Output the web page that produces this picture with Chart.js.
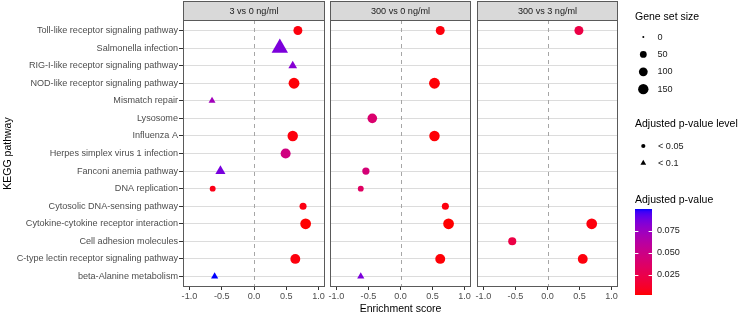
<!DOCTYPE html>
<html>
<head>
<meta charset="utf-8">
<script src="https://cdn.jsdelivr.net/npm/chart.js@4"></script>
<style>
  html, body { margin: 0; background: #fff; }
  #wrap { position: relative; width: 740px; height: 315px; overflow: hidden; }
  #wrap canvas { position: absolute; top: 0; }
</style>
</head>
<body>
<div id="wrap">
  <canvas id="p0"></canvas>
  <canvas id="p1"></canvas>
  <canvas id="p2"></canvas>
</div>
<script>
// data
const pathways = [
  "Toll-like receptor signaling pathway", "Salmonella infection", "RIG-I-like receptor signaling pathway",
  "NOD-like receptor signaling pathway", "Mismatch repair", "Lysosome", "Influenza A",
  "Herpes simplex virus 1 infection", "Fanconi anemia pathway", "DNA replication",
  "Cytosolic DNA-sensing pathway", "Cytokine-cytokine receptor interaction", "Cell adhesion molecules",
  "C-type lectin receptor signaling pathway", "beta-Alanine metabolism",
];
const geneSetSize = [105, 210, 40, 170, 20, 125, 155, 140, 60, 33, 55, 165, 80, 135, 22];
const comparisons = ["3 vs 0 ng/ml", "300 vs 0 ng/ml", "300 vs 3 ng/ml"];

const es3vs0 = [0.68, 0.40, 0.60, 0.62, -0.65, null, 0.60, 0.49, -0.52, -0.64, 0.76, 0.80, null, 0.64, -0.61];
const padj3vs0 = [0.004, 0.085, 0.082, 0.003, 0.072, null, 0.004, 0.047, 0.086, 0.006, 0.005, 0.002, null, 0.004, 0.0995];
const es300vs0 = [0.62, null, null, 0.53, null, -0.44, 0.53, null, -0.54, -0.62, 0.70, 0.75, null, 0.62, -0.62];
const padj300vs0 = [0.004, null, null, 0.003, null, 0.039, 0.003, null, 0.043, 0.034, 0.004, 0.002, null, 0.003, 0.085];
const es300vs3 = [0.49, null, null, null, null, null, null, null, null, null, null, 0.69, -0.55, 0.55, null];
const padj300vs3 = [0.022, null, null, null, null, null, null, null, null, null, null, 0.004, 0.022, 0.004, null];

const xTicks = [-1, -0.5, 0, 0.5, 1];
const sizeBreaks = [0, 50, 100, 150];
const levelLabels = ["< 0.05", "< 0.1"];
const pBreaks = [0.025, 0.05, 0.075];

const series = [[es3vs0, padj3vs0], [es300vs0, padj300vs0], [es300vs3, padj300vs3]];

const FONT = "'Liberation Sans', Arial, sans-serif";
const H = 315, TOP = 20, AXIS_H = 28;
const panels = [{ left: 183, right: 325 }, { left: 330, right: 471 }, { left: 477, right: 618 }];

// point size + colour scales
const radiusFor = (s) => 1 + 0.34 * Math.sqrt(s);
const TRI = 1.6;
const allP = series.flatMap(([, p]) => p).filter((v) => v != null);
const pMin = Math.min(...allP), pMax = Math.max(...allP);

function lin(c) { c /= 255; return c <= 0.04045 ? c / 12.92 : Math.pow((c + 0.055) / 1.055, 2.4); }
function gam(c) { c = c <= 0.0031308 ? 12.92 * c : 1.055 * Math.pow(c, 1 / 2.4) - 0.055; return Math.round(255 * Math.min(1, Math.max(0, c))); }
function toLab([r, g, b]) {
  const R = lin(r), G = lin(g), B = lin(b);
  const f = (t) => (t > 0.008856 ? Math.cbrt(t) : 7.787 * t + 16 / 116);
  const fx = f((0.4124 * R + 0.3576 * G + 0.1805 * B) / 0.95047);
  const fy = f(0.2126 * R + 0.7152 * G + 0.0722 * B);
  const fz = f((0.0193 * R + 0.1192 * G + 0.9505 * B) / 1.08883);
  return [116 * fy - 16, 500 * (fx - fy), 200 * (fy - fz)];
}
function fromLab([L, a, b]) {
  const fy = (L + 16) / 116, fx = fy + a / 500, fz = fy - b / 200;
  const inv = (t) => (t ** 3 > 0.008856 ? t ** 3 : (t - 16 / 116) / 7.787);
  const X = inv(fx) * 0.95047, Y = inv(fy), Z = inv(fz) * 1.08883;
  return `rgb(${gam(3.2406 * X - 1.5372 * Y - 0.4986 * Z)},${gam(-0.9689 * X + 1.8758 * Y + 0.0415 * Z)},${gam(0.0557 * X - 0.204 * Y + 1.057 * Z)})`;
}
const labLow = toLab([255, 0, 0]), labHigh = toLab([0, 0, 255]);
function pColor(p) {
  const t = Math.min(1, Math.max(0, (p - pMin) / (pMax - pMin)));
  return fromLab(labLow.map((v, i) => v + (labHigh[i] - v) * t));
}

const panelFrame = {
  id: "panelFrame",
  beforeDatasetsDraw(chart) {
    const { ctx, chartArea: a, scales: { x } } = chart;
    const x0 = Math.round(x.getPixelForValue(0)) + 0.5;
    ctx.save();
    ctx.strokeStyle = "#a6a6a6"; ctx.lineWidth = 1; ctx.setLineDash([4, 4]);
    ctx.beginPath(); ctx.moveTo(x0, a.top); ctx.lineTo(x0, a.bottom); ctx.stroke();
    ctx.restore();
  },
  afterDraw(chart, args, opts) {
    const { ctx, chartArea: a } = chart;
    ctx.save();
    ctx.fillStyle = "#d9d9d9";
    ctx.fillRect(a.left, 1, a.right - a.left, a.top - 1);
    ctx.strokeStyle = "#5a5a5a"; ctx.lineWidth = 1;
    ctx.strokeRect(a.left + 0.5, 1.5, a.right - a.left - 1, a.top - 1);
    ctx.strokeRect(a.left + 0.5, a.top + 0.5, a.right - a.left - 1, a.bottom - a.top - 1);
    ctx.fillStyle = "#1a1a1a"; ctx.font = `9.1px ${FONT}`;
    ctx.textAlign = "center"; ctx.textBaseline = "middle";
    ctx.fillText(opts.title, (a.left + a.right) / 2, 11);
    ctx.restore();
  },
};

function sideLegend(offsetX) {
  return {
    id: "sideLegend",
    afterDraw(chart) {
      const ctx = chart.ctx;
      ctx.save();
      ctx.translate(-offsetX, 0);
      ctx.textAlign = "left"; ctx.textBaseline = "middle";
      ctx.fillStyle = "#000"; ctx.font = `10.5px ${FONT}`;
      ctx.fillText("Gene set size", 635, 17);
      ctx.fillText("Adjusted p-value level", 635, 124);
      ctx.fillText("Adjusted p-value", 635, 200);

      ctx.font = `9.1px ${FONT}`;
      sizeBreaks.forEach((s, i) => {
        const y = 37 + i * 17.4;
        ctx.fillStyle = "#000";
        ctx.beginPath(); ctx.arc(643.3, y, radiusFor(s), 0, Math.PI * 2); ctx.fill();
        ctx.fillStyle = "#1a1a1a"; ctx.fillText(String(s), 657.5, y);
      });

      levelLabels.forEach((lab, i) => {
        const y = 146 + i * 17;
        ctx.fillStyle = "#000";
        ctx.beginPath();
        if (i === 0) ctx.arc(643.3, y, 2.1, 0, Math.PI * 2);
        else { const r = 3.3; ctx.moveTo(643.3, y - r); ctx.lineTo(643.3 + r * 0.866, y + r / 2); ctx.lineTo(643.3 - r * 0.866, y + r / 2); ctx.closePath(); }
        ctx.fill();
        ctx.fillStyle = "#1a1a1a"; ctx.fillText(lab, 658, y);
      });

      // colour bar
      const bx = 635, bw = 17, bTop = 209, bBot = 295;
      const grad = ctx.createLinearGradient(0, bBot, 0, bTop);
      for (let k = 0; k <= 40; k++) grad.addColorStop(k / 40, pColor(pMin + (pMax - pMin) * k / 40));
      ctx.fillStyle = grad; ctx.fillRect(bx, bTop, bw, bBot - bTop);
      const yOf = (p) => bBot - (p - pMin) / (pMax - pMin) * (bBot - bTop);
      ctx.strokeStyle = "#fff"; ctx.lineWidth = 1;
      pBreaks.forEach((p) => {
        const y = Math.round(yOf(p)) + 0.5;
        ctx.beginPath(); ctx.moveTo(bx, y); ctx.lineTo(bx + 3.4, y);
        ctx.moveTo(bx + bw - 3.4, y); ctx.lineTo(bx + bw, y); ctx.stroke();
        ctx.fillStyle = "#1a1a1a"; ctx.fillText(p.toFixed(3), 657, yOf(p));
      });
      ctx.restore();
    },
  };
}

panels.forEach((pan, k) => {
  const canvas = document.getElementById("p" + k);
  const padL = k === 0 ? 0 : 10;
  const cLeft = k === 0 ? 0 : pan.left - padL;
  const cWidth = k === 2 ? 740 - cLeft : pan.right + 12 - cLeft;
  canvas.style.left = cLeft + "px";
  canvas.width = cWidth; canvas.height = H;

  const [es, padj] = series[k];
  const points = pathways
    .map((name, i) => (es[i] == null ? null : { x: es[i], y: i, p: padj[i], size: geneSetSize[i] }))
    .filter(Boolean);

  const plugins = [panelFrame];
  if (k === 2) plugins.push(sideLegend(cLeft));

  const chart = new Chart(canvas, {
    type: "scatter",
    data: {
      datasets: [{
        data: points,
        pointStyle: (c) => (c.raw.p < 0.05 ? "circle" : "triangle"),
        pointRadius: (c) => radiusFor(c.raw.size) * (c.raw.p < 0.05 ? 1 : TRI),
        backgroundColor: (c) => pColor(c.raw.p),
        borderWidth: 0,
      }],
    },
    options: {
      responsive: false, animation: false, events: [],
      layout: { padding: { left: padL, right: cWidth - (pan.right - cLeft), top: TOP, bottom: 0 } },
      plugins: { legend: { display: false }, tooltip: { enabled: false }, panelFrame: { title: comparisons[k] } },
      scales: {
        x: {
          type: "linear", min: -1.1, max: 1.1,
          afterBuildTicks: (s) => { s.ticks = xTicks.map((v) => ({ value: v })); },
          afterFit: (s) => { s.height = AXIS_H; },
          grid: { drawOnChartArea: false, tickLength: 3, tickColor: "#333" },
          border: { display: false },
          ticks: { color: "#4d4d4d", font: { family: FONT, size: 9.1 }, padding: 1, maxRotation: 0, callback: (v) => v.toFixed(1) },
          title: { display: k === 1, text: "Enrichment score", color: "#000", font: { family: FONT, size: 10.5 }, padding: { top: 0, bottom: 0 } },
        },
        y: {
          type: "linear", reverse: true, min: -0.6, max: pathways.length - 0.4,
          afterBuildTicks: (s) => { s.ticks = pathways.map((_, i) => ({ value: i })); },
          afterFit: (s) => { s.width = k === 0 ? pan.left : 0; },
          grid: { color: "#dcdcdc", drawTicks: k === 0, tickLength: 4, tickColor: "#333" },
          border: { display: false },
          ticks: { display: k === 0, autoSkip: false, color: "#4d4d4d", font: { family: FONT, size: 9.1 }, padding: 1, callback: (v) => pathways[v] },
          title: { display: k === 0, text: "KEGG pathway", color: "#000", font: { family: FONT, size: 10.5 }, padding: { top: 2, bottom: 0 } },
        },
      },
    },
    plugins,
  });

  // nudge layout padding so the panel lands exactly on its facet box
  for (let n = 0; n < 3; n++) {
    const a = chart.chartArea, pad = chart.options.layout.padding;
    const dl = (pan.left - cLeft) - a.left, dr = a.right - (pan.right - cLeft);
    if (Math.abs(dl) < 0.5 && Math.abs(dr) < 0.5) break;
    if (k !== 0) pad.left += dl;
    pad.right += dr;
    chart.update();
  }
});
</script>
</body>
</html>
